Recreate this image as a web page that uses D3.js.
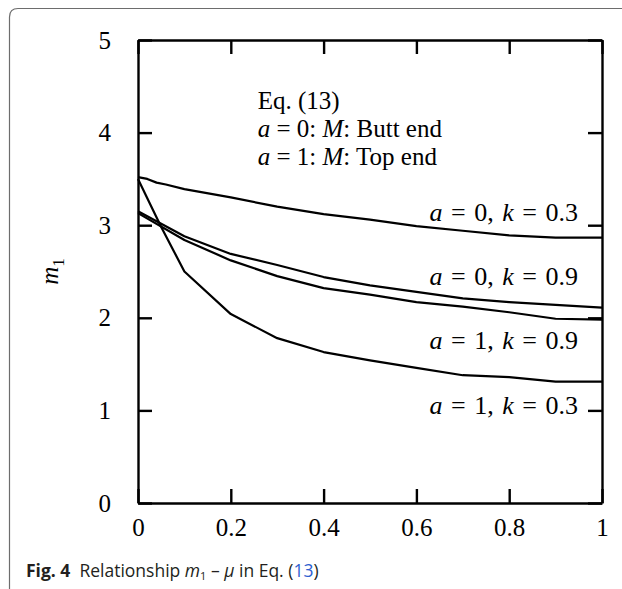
<!DOCTYPE html>
<html>
<head>
<meta charset="utf-8">
<script src="https://cdn.jsdelivr.net/npm/d3@7"></script>
<style>
  body { margin: 0; background: #fff; }
  svg { display: block; }
  .tick text { font-family: "Liberation Serif", "Times New Roman", serif; font-size: 25px; fill: #000; }
  .note { font-family: "Liberation Serif", "Times New Roman", serif; font-size: 25px; fill: #000; }
  .curve-label { font-size: 26px; word-spacing: 2px; }
  .caption { font-family: "Open Sans", "Noto Sans", sans-serif; font-size: 17.5px; fill: #231f20; }
</style>
</head>
<body>
<div id="chart"></div>
<script>
// curve values (mu on x, m1 on y)
const muGrid = [0, 0.1, 0.2, 0.3, 0.4, 0.5, 0.6, 0.7, 0.8, 0.9, 1];
const muA0K03 = [0, 0.02, 0.04, 0.06, 0.1, 0.2, 0.3, 0.4, 0.5, 0.6, 0.7, 0.8, 0.9, 1];
const m1A0K03 = [3.52, 3.5, 3.46, 3.44, 3.39, 3.3, 3.2, 3.12, 3.06, 2.99, 2.94, 2.89, 2.865, 2.865];
const m1A0K09 = [3.15, 2.88, 2.69, 2.57, 2.44, 2.35, 2.28, 2.21, 2.17, 2.14, 2.11];
const m1A1K09 = [3.13, 2.84, 2.62, 2.45, 2.32, 2.25, 2.17, 2.12, 2.06, 1.99, 1.98];
const muA1K03 = [0, 0.05, 0.1, 0.2, 0.3, 0.4, 0.5, 0.6, 0.7, 0.8, 0.9, 1];
const m1A1K03 = [3.5, 2.98, 2.5, 2.04, 1.78, 1.63, 1.54, 1.46, 1.38, 1.36, 1.31, 1.31];

const xTicks = [0, 0.2, 0.4, 0.6, 0.8, 1];
const yTicks = [0, 1, 2, 3, 4, 5];
const curveLabels = [
  { a: "0", k: "0.3", y: 3.05 },
  { a: "0", k: "0.9", y: 2.35 },
  { a: "1", k: "0.9", y: 1.66 },
  { a: "1", k: "0.3", y: 0.96 },
];
const noteLines = [
  [["Eq. (13)", false]],
  [["a", true], [" = 0: ", false], ["M", true], [": Butt end", false]],
  [["a", true], [" = 1: ", false], ["M", true], [": Top end", false]],
];

const width = 622, height = 589;
const margin = { top: 40, right: 20, bottom: 86, left: 138 };
const innerW = 602 - margin.left;
const innerH = 503 - margin.top;

const svg = d3.select("#chart").append("svg").attr("width", width).attr("height", height);

// rounded frame of the figure panel
svg.append("path")
  .attr("d", "M9.5,589 L9.5,17 Q9.5,8.5 18,8.5 L622,8.5")
  .attr("fill", "none").attr("stroke", "#6d6d6d").attr("stroke-width", 1.2);

const x = d3.scaleLinear().domain([0, 1]).range([0, innerW]);
const y = d3.scaleLinear().domain([0, 5]).range([innerH, 0]);

const g = svg.append("g").attr("transform", `translate(${margin.left},${margin.top})`);

const tickLen = 14;
const fmtX = (d) => (d === 0 || d === 1 ? d3.format("d")(d) : d3.format(".1f")(d));

const axBottom = g.append("g").attr("transform", `translate(0,${innerH})`)
  .call(d3.axisBottom(x).tickValues(xTicks).tickFormat(fmtX).tickSizeInner(-tickLen).tickSizeOuter(0).tickPadding(27));
const axLeft = g.append("g")
  .call(d3.axisLeft(y).tickValues(yTicks).tickFormat(d3.format("d")).tickSizeInner(-tickLen).tickSizeOuter(0).tickPadding(27));
const axTop = g.append("g")
  .call(d3.axisTop(x).tickValues(xTicks).tickFormat("").tickSizeInner(-tickLen).tickSizeOuter(0));
const axRight = g.append("g").attr("transform", `translate(${innerW},0)`)
  .call(d3.axisRight(y).tickValues(yTicks).tickFormat("").tickSizeInner(-tickLen).tickSizeOuter(0));

[axBottom, axLeft, axTop, axRight].forEach((ax) => {
  ax.select(".domain").attr("stroke", "#000").attr("stroke-width", 2.4);
  ax.selectAll(".tick line").attr("stroke", "#000").attr("stroke-width", 2.4);
});
axBottom.selectAll(".tick text").attr("dy", "0.25em");
axLeft.selectAll(".tick text").attr("text-anchor", "middle").attr("dx", "-0.25em");

const line = d3.line().x((d) => x(d[0])).y((d) => y(d[1]));
const series = [
  d3.zip(muA0K03, m1A0K03),
  d3.zip(muGrid, m1A0K09),
  d3.zip(muGrid, m1A1K09),
  d3.zip(muA1K03, m1A1K03),
];
g.append("g").selectAll("path").data(series).join("path")
  .attr("d", line)
  .attr("fill", "none")
  .attr("stroke", "#000")
  .attr("stroke-width", 2.2)
  .attr("stroke-linejoin", "round");

// curve labels, right aligned
const lab = g.append("g").selectAll("text").data(curveLabels).join("text")
  .attr("class", "note curve-label")
  .attr("x", x(1) - 24)
  .attr("y", (d) => y(d.y))
  .attr("text-anchor", "end");
lab.append("tspan").attr("font-style", "italic").text("a");
lab.append("tspan").text((d) => ` = ${d.a}, `);
lab.append("tspan").attr("font-style", "italic").text("k");
lab.append("tspan").text((d) => ` = ${d.k}`);

// equation note block
const note = g.append("g").selectAll("text").data(noteLines).join("text")
  .attr("class", "note")
  .attr("x", x(0.258))
  .attr("y", (d, i) => y(4.4) + 13 + i * 28);
note.selectAll("tspan").data((d) => d).join("tspan")
  .attr("font-style", (d) => (d[1] ? "italic" : "normal"))
  .text((d) => d[0]);

// y axis title
const yTitle = svg.append("text")
  .attr("class", "note")
  .attr("font-size", 26)
  .attr("transform", `translate(58,${margin.top + y(2.5)}) rotate(-90)`)
  .attr("text-anchor", "middle");
yTitle.append("tspan").attr("font-style", "italic").text("m");
yTitle.append("tspan").attr("font-size", 17).attr("dy", 6).text("1");

// caption
const cap = svg.append("text").attr("class", "caption").attr("x", 26).attr("y", 577);
cap.append("tspan").attr("font-weight", "bold").text("Fig. 4");
cap.append("tspan").attr("dx", 9).text("Relationship ");
cap.append("tspan").attr("font-style", "italic").text("m");
cap.append("tspan").attr("font-size", 11).attr("dy", 3).text("1");
cap.append("tspan").attr("dy", -3).text(" \u2013 ");
cap.append("tspan").attr("font-style", "italic").text("\u03bc");
cap.append("tspan").text(" in Eq. (");
cap.append("tspan").attr("fill", "#2f5fd0").text("13");
cap.append("tspan").text(")");
</script>
</body>
</html>
